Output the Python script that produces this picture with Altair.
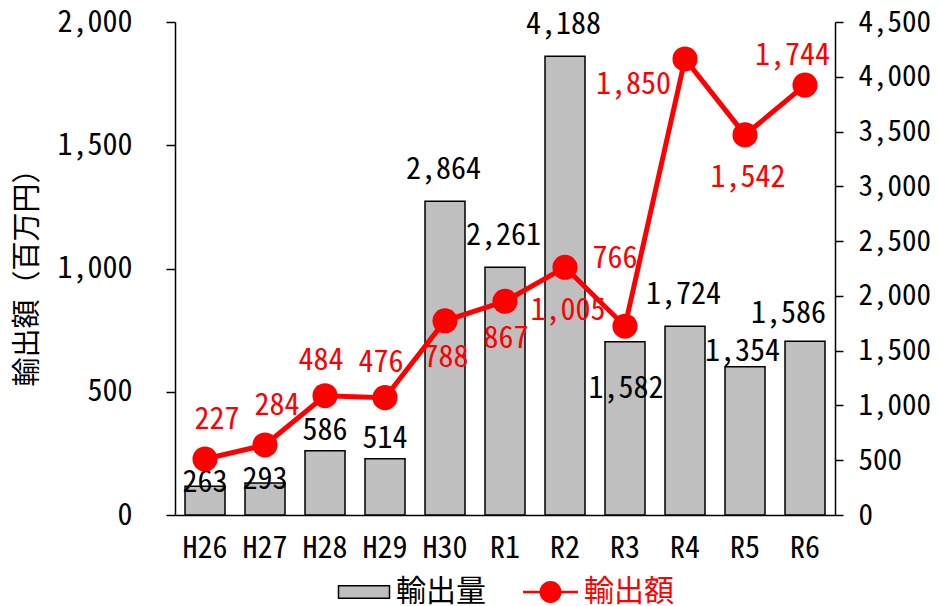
import altair as alt
import pandas as pd

# ---------------- data ----------------
categories = ["H26", "H27", "H28", "H29", "H30", "R1", "R2", "R3", "R4", "R5", "R6"]
export_volume = [263, 293, 586, 514, 2864, 2261, 4188, 1582, 1724, 1354, 1586]   # 輸出量 (right axis)
export_value = [227, 284, 484, 476, 788, 867, 1005, 766, 1850, 1542, 1744]       # 輸出額 (left axis, 百万円)
volume_label_place = ["inner_top", "inner_top", "near", "near", "above", "above",
                      "above", "inside", "above", "near_left", "above_left"]
value_label_place = ["above_right", "above_right", "above", "above", "below", "below",
                     "below_far", "above_far", "left", "below_far", "above_left"]
left_ticks = [0, 500, 1000, 1500, 2000]
right_ticks = [0, 500, 1000, 1500, 2000, 2500, 3000, 3500, 4000, 4500]
series_names = ["輸出量", "輸出額"]
left_title = "輸出額（百万円）"

# ---------------- style ----------------
NUM_FONT = "Noto Sans Mono CJK JP, Noto Sans CJK JP, sans-serif"
CJK_FONT = "Noto Sans CJK JP, sans-serif"
FS = 30
RED = "#FF0000"
GRAY = "#BFBFBF"

bar_offsets = {"inner_top": (0, -3), "near": (0, -20), "above": (-1.5, -31),
               "inside": (1, 47.5), "near_left": (-2.5, -14.5), "above_left": (-16.5, -27.5)}
line_offsets = {"above_right": (12, -39), "above": (-4, -35), "below": (1, 37.5),
                "below_far": (3, 43.5), "above_far": (-10, -67), "left": (-51.5, 26),
                "above_left": (-12.5, -29)}

df = pd.DataFrame({
    "year": categories,
    "volume": export_volume,
    "value": export_value,
    "vplace": volume_label_place,
    "lplace": value_label_place,
    "vol_series": [series_names[0]] * len(categories),
    "val_series": [series_names[1]] * len(categories),
})

x_scale = alt.Scale(paddingInner=1 / 3, paddingOuter=1 / 6)
x_axis = alt.Axis(title=None, ticks=False, labelAngle=0, labelFont=NUM_FONT, labelFontSize=FS,
                  labelColor="black", labelPadding=18, domainColor="black", domainWidth=1.5,
                  grid=False)
x_enc = alt.X("year:N", sort=categories, scale=x_scale, axis=x_axis)

right_scale = alt.Scale(domain=[0, 4500], nice=False, zero=True)
left_scale = alt.Scale(domain=[0, 2000], nice=False, zero=True)

right_axis = alt.Axis(orient="right", values=right_ticks, format=",d", title=None, grid=False,
                      labelFont=NUM_FONT, labelFontSize=29, labelColor="black", labelPadding=15,
                      tickSize=8, tickColor="black", tickWidth=1.5, domainColor="black",
                      domainWidth=1.5)
left_axis = alt.Axis(orient="left", values=left_ticks, format=",d", title=left_title, grid=False,
                     labelFont=NUM_FONT, labelFontSize=FS, labelColor="black", labelPadding=34,
                     tickSize=9, tickColor="black", tickWidth=1.5, domainColor="black",
                     domainWidth=1.5, titleFont=CJK_FONT, titleFontSize=29,
                     titleFontWeight="normal", titleColor="black", titleAngle=270,
                     titleAlign="center", titleBaseline="middle", titleX=-147.5, titleY=248)

y_right = alt.Y("volume:Q", scale=right_scale, axis=right_axis)
y_left = alt.Y("value:Q", scale=left_scale, axis=left_axis)

base = alt.Chart(df)

bars = base.mark_bar(stroke="black", strokeWidth=1.5).encode(
    x=x_enc,
    y=y_right,
    color=alt.Color("vol_series:N",
                    scale=alt.Scale(domain=[series_names[0]], range=[GRAY]),
                    legend=alt.Legend(title=None, orient="none", legendX=174, legendY=555,
                                      padding=0, symbolType="M-2,-0.5H2V0.5H-2Z",
                                      symbolSize=650, symbolStrokeColor="black",
                                      symbolStrokeWidth=1.5, symbolOpacity=1,
                                      labelFont=CJK_FONT, labelFontSize=FS,
                                      labelColor="black", labelOffset=17)),
)

bar_texts = []
for key, (dx, dy) in bar_offsets.items():
    bar_texts.append(
        base.transform_filter(alt.FieldOneOfPredicate(field="vplace", oneOf=[key]))
        .mark_text(dx=dx, dy=dy, font=NUM_FONT, fontSize=FS, color="black",
                   align="center", baseline="middle")
        .encode(x=x_enc, y=y_right, text=alt.Text("volume:Q", format=",d"))
    )

bar_group = alt.layer(bars, *bar_texts)

line = base.mark_line(color=RED, strokeWidth=5).encode(x=x_enc, y=y_left)

legend_line_path = ("M-2.5,-0.114H-0.97V0.114H-2.5Z M0.97,-0.114H2.5V0.114H0.97Z "
                    "M1,0A1,1,0,1,1,-1,0A1,1,0,1,1,1,0Z")
points = base.mark_point(filled=True, size=630, opacity=1).encode(
    x=x_enc,
    y=y_left,
    color=alt.Color("val_series:N",
                    scale=alt.Scale(domain=[series_names[1]], range=[RED]),
                    legend=alt.Legend(title=None, orient="none", legendX=360.5, legendY=555,
                                      padding=0, symbolType=legend_line_path,
                                      symbolSize=484, symbolStrokeWidth=0, symbolOpacity=1,
                                      labelFont=CJK_FONT, labelFontSize=FS,
                                      labelColor=RED, labelOffset=18.5)),
)

line_texts = []
for key, (dx, dy) in line_offsets.items():
    line_texts.append(
        base.transform_filter(alt.FieldOneOfPredicate(field="lplace", oneOf=[key]))
        .mark_text(dx=dx, dy=dy, font=NUM_FONT, fontSize=FS, color=RED,
                   align="center", baseline="middle")
        .encode(x=x_enc, y=y_left, text=alt.Text("value:Q", format=",d"))
    )

line_group = alt.layer(line, points, *line_texts)

chart = (
    alt.layer(bar_group, line_group)
    .resolve_scale(y="independent", color="independent")
    .properties(width=660, height=493,
                autosize=alt.AutoSizeParams(type="none"),
                padding={"left": 167, "top": 14, "right": 97, "bottom": 91},
                background="white")
    .configure_view(stroke=None)
)

chart.save("out.html", embed_options={"renderer": "svg", "actions": False})
